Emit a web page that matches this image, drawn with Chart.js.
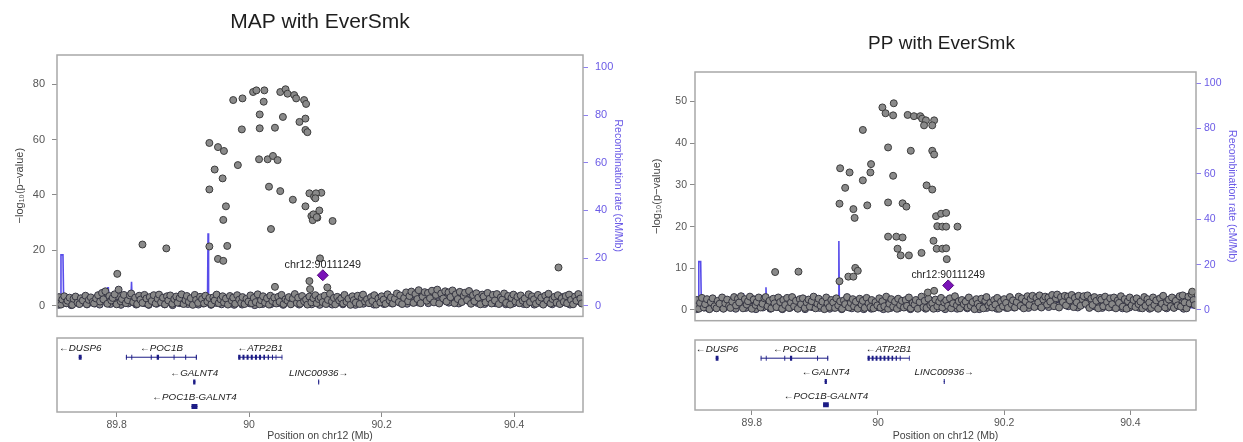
<!DOCTYPE html>
<html><head><meta charset="utf-8">
<script src="https://cdn.jsdelivr.net/npm/chart.js@4.4.1/dist/chart.umd.min.js"></script>
<style>
html,body{margin:0;padding:0;background:#fff;width:1243px;height:442px;overflow:hidden}
canvas{position:absolute}
</style></head><body>
<canvas id="mapMain" style="left:0px;top:0px" width="640" height="330"></canvas>
<canvas id="mapGene" style="left:0px;top:330px" width="640" height="112"></canvas>
<canvas id="ppMain" style="left:640px;top:0px" width="603" height="330"></canvas>
<canvas id="ppGene" style="left:640px;top:330px" width="603" height="112"></canvas>
<script>
// ---------------- data ----------------
const titles = ['MAP with EverSmk', 'PP with EverSmk'];
const xRange = [89.710, 90.504];
const mapTicks = [0, 20, 40, 60, 80];
const ppTicks = [0, 10, 20, 30, 40, 50];
const recombTicks = [0, 20, 40, 60, 80, 100];
const posTicks = [89.8, 90.0, 90.2, 90.4];
const posTickLabels = ['89.8', '90', '90.2', '90.4'];

const leadSnp = 'chr12:90111249';
const leadPos = 90.111249;
const leadMap = 11.0;
const leadPP = 5.9;

// background SNPs, upper layer (positions shared by both analyses)
const bgPos = [
89.711,89.713,89.716,89.718,89.721,89.724,89.726,89.729,89.733,89.735,
89.738,89.741,89.744,89.746,89.749,89.753,89.755,89.758,89.761,89.764,
89.766,89.769,89.772,89.775,89.778,89.780,89.783,89.786,89.789,89.792,
89.794,89.797,89.800,89.803,89.806,89.808,89.811,89.814,89.817,89.820,
89.822,89.825,89.828,89.831,89.834,89.836,89.839,89.842,89.845,89.848,
89.850,89.853,89.856,89.859,89.862,89.864,89.867,89.870,89.873,89.876,
89.878,89.881,89.884,89.887,89.890,89.892,89.895,89.898,89.901,89.904,
89.906,89.909,89.912,89.915,89.918,89.920,89.923,89.926,89.929,89.932,
89.934,89.937,89.940,89.943,89.946,89.948,89.951,89.954,89.957,89.960,
89.962,89.965,89.968,89.971,89.974,89.976,89.979,89.982,89.985,89.988,
89.990,89.993,89.996,89.999,90.002,90.004,90.007,90.010,90.013,90.016,
90.018,90.021,90.024,90.027,90.030,90.032,90.035,90.038,90.041,90.044,
90.046,90.049,90.052,90.055,90.058,90.060,90.063,90.066,90.069,90.072,
90.074,90.077,90.080,90.083,90.086,90.088,90.091,90.094,90.097,90.100,
90.102,90.105,90.108,90.111,90.114,90.116,90.119,90.122,90.125,90.128,
90.130,90.133,90.136,90.139,90.142,90.144,90.147,90.150,90.153,90.156,
90.158,90.161,90.164,90.167,90.170,90.172,90.175,90.178,90.181,90.184,
90.186,90.189,90.192,90.195,90.198,90.200,90.203,90.206,90.209,90.212,
90.214,90.217,90.220,90.223,90.226,90.228,90.231,90.234,90.237,90.240,
90.242,90.245,90.248,90.251,90.254,90.256,90.259,90.262,90.265,90.268,
90.270,90.273,90.276,90.279,90.282,90.284,90.287,90.290,90.293,90.296,
90.298,90.301,90.304,90.307,90.310,90.312,90.315,90.318,90.321,90.324,
90.326,90.329,90.332,90.335,90.338,90.340,90.343,90.346,90.349,90.352,
90.354,90.357,90.360,90.363,90.366,90.368,90.371,90.374,90.377,90.380,
90.382,90.385,90.388,90.391,90.394,90.396,90.399,90.402,90.405,90.408,
90.410,90.413,90.416,90.419,90.422,90.424,90.427,90.430,90.433,90.436,
90.438,90.441,90.444,90.447,90.450,90.452,90.455,90.458,90.461,90.464,
90.466,90.469,90.472,90.475,90.478,90.480,90.483,90.486,90.489,90.492,
90.494,90.497,90.500,90.502];
const bgMap = [
1.2,3.1,0.4,2.2,3.4,0.9,1.8,2.9,0.3,2.5,
3.3,1.1,0.6,2.7,1.9,3.6,0.5,2.1,3.0,1.4,
0.8,2.6,3.8,1.5,4.6,2.3,5.2,0.7,3.5,1.9,
2.8,4.1,0.5,5.8,1.6,2.4,3.9,0.9,2.0,3.7,
4.4,1.3,2.9,0.6,3.6,2.2,1.0,3.9,2.6,0.4,
3.1,1.7,3.8,0.8,2.5,4.0,1.2,2.9,0.5,3.4,
1.9,3.7,0.7,2.4,3.3,1.1,2.8,4.1,0.6,2.0,
3.5,1.4,2.7,0.3,3.9,2.1,1.0,3.2,2.4,0.8,
3.6,1.5,2.8,0.5,3.0,1.9,4.0,0.9,2.3,3.4,
1.2,2.6,0.4,3.5,1.8,2.9,0.7,3.8,2.2,1.0,
3.1,0.6,2.5,1.5,3.7,0.9,2.8,1.3,4.1,0.5,
2.0,3.4,1.1,2.7,0.4,3.6,1.7,2.9,0.8,3.2,
1.4,3.9,0.6,2.3,1.8,3.1,0.5,2.6,4.2,1.0,
2.9,0.7,3.5,1.6,2.2,0.4,3.3,1.2,2.7,3.8,
0.9,2.4,3.0,1.3,3.6,0.6,2.1,4.3,1.5,2.8,
0.5,3.2,1.9,2.6,0.8,3.9,1.4,2.5,0.3,3.4,
2.0,1.1,3.6,0.6,2.9,4.0,1.5,2.3,0.9,3.1,
1.7,3.8,0.4,2.6,1.2,3.4,2.2,0.7,4.1,1.9,
3.0,0.8,2.5,4.4,1.3,3.7,0.6,2.8,4.8,1.6,
3.5,5.1,1.0,4.2,2.4,5.6,0.9,3.3,4.9,1.8,
4.6,2.7,5.4,1.2,3.9,5.8,0.8,4.4,2.6,5.2,
1.5,4.8,3.1,5.5,0.9,4.1,2.4,5.0,1.3,3.6,
4.7,2.0,5.3,0.7,3.8,1.6,4.5,2.9,0.5,4.0,
3.3,1.2,4.6,2.5,0.8,3.9,1.9,4.2,0.6,3.0,
2.2,4.4,1.0,3.5,0.4,2.8,4.0,1.5,3.2,0.9,
3.7,1.8,2.6,0.5,4.1,1.3,3.4,2.3,0.7,3.9,
1.6,2.9,0.4,3.6,1.9,4.3,0.8,2.4,3.2,1.1,
3.8,0.6,2.7,1.4,3.5,0.9,4.0,2.1,0.5,3.3,
1.8,4.2,2.6,0.8];
const bgPP = [
0.8,2.4,0.3,1.7,2.9,0.6,1.4,2.6,0.2,1.9,
2.8,0.9,0.4,2.2,1.5,3.0,0.3,1.6,2.5,1.0,
0.5,2.0,3.1,1.1,2.7,1.8,3.3,0.4,2.6,1.3,
2.1,3.2,0.3,2.5,1.2,1.9,3.0,0.6,1.5,2.8,
3.1,0.9,2.2,0.4,2.7,1.6,0.7,3.0,1.9,0.3,
2.4,1.2,2.9,0.5,1.8,3.1,0.9,2.2,0.3,2.6,
1.4,2.8,0.5,1.8,2.5,0.8,2.1,3.2,0.4,1.5,
2.7,1.0,2.0,0.2,3.0,1.6,0.7,2.4,1.8,0.5,
2.8,1.1,2.1,0.3,2.3,1.4,3.1,0.6,1.7,2.6,
0.9,2.0,0.3,2.7,1.3,2.2,0.5,2.9,1.6,0.7,
2.4,0.4,1.9,1.1,2.8,0.6,2.1,0.9,3.2,0.3,
1.5,2.6,0.8,2.0,0.3,2.7,1.2,2.2,0.6,2.4,
1.0,3.0,0.4,1.7,1.3,2.4,0.3,1.9,3.2,0.7,
2.2,0.5,2.7,1.2,1.6,0.3,2.5,0.9,2.0,2.9,
0.6,1.8,2.3,1.0,2.8,0.4,1.6,3.3,1.1,2.1,
0.4,2.4,1.4,2.0,0.6,3.0,1.0,1.9,0.2,2.6,
1.5,0.8,2.7,0.4,2.2,3.1,1.1,1.7,0.6,2.4,
1.3,2.9,0.3,2.0,0.9,2.6,1.7,0.5,3.1,1.4,
2.3,0.6,1.9,3.2,1.0,2.8,0.4,2.1,3.3,1.2,
2.7,3.4,0.7,2.9,1.8,3.5,0.6,2.5,3.2,1.3,
3.0,2.0,3.6,0.9,2.8,3.7,0.6,3.1,1.9,3.4,
1.1,3.2,2.3,3.6,0.7,2.9,1.8,3.4,1.0,2.6,
3.3,1.5,3.5,0.5,2.7,1.2,3.1,2.2,0.4,2.9,
2.5,0.9,3.2,1.9,0.6,2.8,1.4,3.0,0.4,2.3,
1.7,3.3,0.8,2.6,0.3,2.1,3.0,1.1,2.4,0.7,
2.8,1.4,2.0,0.4,3.1,1.0,2.6,1.8,0.5,3.0,
1.2,2.3,0.3,2.8,1.5,3.4,0.6,1.9,2.5,0.9,
3.0,0.5,2.2,1.1,3.3,0.8,3.5,1.8,0.4,3.2,
1.6,3.8,2.4,1.2];

// background SNPs, lower layer
const bgPos2 = [
89.7125,89.7165,89.7205,89.7245,89.7285,89.7315,89.7355,89.7395,89.7435,89.7475,
89.7515,89.7555,89.7595,89.7635,89.7675,89.7705,89.7745,89.7785,89.7825,89.7865,
89.7905,89.7945,89.7985,89.8025,89.8065,89.8095,89.8135,89.8175,89.8215,89.8255,
89.8295,89.8335,89.8375,89.8415,89.8455,89.8485,89.8525,89.8565,89.8605,89.8645,
89.8685,89.8725,89.8765,89.8805,89.8845,89.8875,89.8915,89.8955,89.8995,89.9035,
89.9075,89.9115,89.9155,89.9195,89.9235,89.9265,89.9305,89.9345,89.9385,89.9425,
89.9465,89.9505,89.9545,89.9585,89.9625,89.9655,89.9695,89.9735,89.9775,89.9815,
89.9855,89.9895,89.9935,89.9975,90.0015,90.0045,90.0085,90.0125,90.0165,90.0205,
90.0245,90.0285,90.0325,90.0365,90.0405,90.0435,90.0475,90.0515,90.0555,90.0595,
90.0635,90.0675,90.0715,90.0755,90.0795,90.0825,90.0865,90.0905,90.0945,90.0985,
90.1025,90.1065,90.1105,90.1145,90.1185,90.1215,90.1255,90.1295,90.1335,90.1375,
90.1415,90.1455,90.1495,90.1535,90.1575,90.1605,90.1645,90.1685,90.1725,90.1765,
90.1805,90.1845,90.1885,90.1925,90.1965,90.1995,90.2035,90.2075,90.2115,90.2155,
90.2195,90.2235,90.2275,90.2315,90.2355,90.2385,90.2425,90.2465,90.2505,90.2545,
90.2585,90.2625,90.2665,90.2705,90.2745,90.2775,90.2815,90.2855,90.2895,90.2935,
90.2975,90.3015,90.3055,90.3095,90.3135,90.3165,90.3205,90.3245,90.3285,90.3325,
90.3365,90.3405,90.3445,90.3485,90.3525,90.3555,90.3595,90.3635,90.3675,90.3715,
90.3755,90.3795,90.3835,90.3875,90.3915,90.3945,90.3985,90.4025,90.4065,90.4105,
90.4145,90.4185,90.4225,90.4265,90.4305,90.4335,90.4375,90.4415,90.4455,90.4495,
90.4535,90.4575,90.4615,90.4655,90.4695,90.4725,90.4765,90.4805,90.4845,90.4885,
90.4925,90.4965,90.5005];
const bgMap2 = [
0.3,1.6,2.4,0.9,1.9,0.2,1.3,2.2,0.7,1.7,
2.6,0.5,1.4,2.0,0.8,3.0,0.4,1.8,2.7,1.1,
0.6,2.3,1.0,3.2,0.3,1.5,2.5,0.8,2.9,1.2,
0.4,2.1,1.4,0.9,2.7,0.3,1.6,2.4,0.7,1.9,
2.8,0.5,1.3,2.2,0.2,1.7,3.0,0.9,1.5,2.4,
0.6,2.0,1.1,2.9,0.4,1.8,0.8,2.5,1.3,0.3,
2.2,1.0,2.8,0.5,1.6,2.4,0.7,1.9,0.3,2.6,
1.2,0.4,2.3,1.5,0.8,2.7,0.2,1.7,2.1,0.6,
1.9,2.8,0.5,1.4,2.3,0.9,3.1,0.3,1.6,2.2,
0.7,2.5,1.2,0.4,2.0,1.6,0.9,2.9,0.5,1.8,
2.4,0.3,1.5,2.6,0.8,1.9,0.4,2.2,1.1,2.8,
0.5,1.7,2.5,0.9,2.1,0.3,1.4,2.7,0.7,1.6,
2.3,1.0,0.4,2.9,1.3,2.0,0.6,3.2,1.5,0.8,
2.6,3.4,1.1,2.2,3.7,0.7,2.8,1.6,3.9,1.2,
3.1,1.9,4.2,0.9,3.5,2.4,4.5,1.3,3.8,2.0,
4.0,1.1,3.3,2.6,4.4,0.8,3.6,2.1,4.1,1.5,
2.9,3.7,1.0,2.5,3.2,0.6,2.7,1.8,3.0,0.9,
2.2,1.3,2.8,0.5,1.9,3.0,0.8,2.4,1.1,2.6,
0.6,2.1,1.5,2.9,0.4,1.8,2.5,0.9,2.2,1.4,
2.7,0.5,1.9,2.4,0.8,3.1,1.2,2.0,0.4,2.6,
1.5,3.0,2.2];
const bgPP2 = [
0.2,1.2,1.9,0.6,1.5,0.3,1.0,1.8,0.5,1.3,
2.1,0.4,1.1,1.6,0.6,2.4,0.3,1.4,2.2,0.8,
0.5,1.8,0.8,2.6,0.2,1.2,2.0,0.6,2.3,0.9,
0.3,1.7,1.1,0.7,2.2,0.2,1.3,1.9,0.5,1.5,
2.3,0.4,1.0,1.8,0.2,1.4,2.4,0.7,1.2,1.9,
0.5,1.6,0.9,2.3,0.3,1.4,0.6,2.0,1.0,0.2,
1.8,0.8,2.2,0.4,1.3,1.9,0.5,1.5,0.2,2.1,
1.0,0.3,1.8,1.2,0.6,2.2,0.2,1.4,1.7,0.5,
1.5,2.3,0.4,1.1,1.8,0.7,2.5,0.2,1.3,1.8,
0.5,2.0,1.0,0.3,1.6,1.3,0.7,2.3,0.4,1.4,
1.9,0.2,1.2,2.1,0.6,1.5,0.3,1.8,0.9,2.2,
0.4,1.4,2.0,0.7,1.7,0.2,1.1,2.2,0.5,1.3,
1.8,0.8,0.3,2.3,1.0,1.6,0.5,2.5,1.2,0.6,
2.0,2.6,0.9,1.7,2.8,0.5,2.2,1.3,2.9,1.0,
2.4,1.5,3.0,0.7,2.6,1.9,3.1,1.0,2.7,1.6,
2.9,0.9,2.5,2.0,3.1,0.6,2.6,1.7,2.9,1.2,
2.2,2.8,0.8,1.9,2.4,0.5,2.1,1.4,2.3,0.7,
1.7,1.0,2.2,0.4,1.5,2.4,0.6,1.9,0.9,2.1,
0.5,1.7,1.2,2.3,0.3,1.4,2.0,0.7,1.8,1.1,
2.2,0.4,1.5,1.9,0.6,2.6,1.0,1.6,0.3,2.9,
1.3,3.4,2.5];

// associated SNPs, MAP analysis
const mapPeakPos = [89.801,89.839,89.875,89.940,89.953,89.962,89.948,89.940,89.960,89.965,
89.961,89.940,89.967,89.953,89.961,89.983,89.976,89.990,89.989,90.006,
90.011,90.023,90.022,90.016,90.016,90.039,90.015,90.028,90.036,90.043,
90.047,90.055,90.058,90.068,90.071,90.051,90.030,90.047,90.066,90.033,
90.083,90.086,90.076,90.085,90.085,90.088,90.085,90.091,90.098,90.109,
90.101,90.100,90.094,90.106,90.103,90.096,90.097,90.102,90.126,90.107,
90.091,90.092,90.039,90.118,90.467];
const mapPeakVal = [11.5,22.1,20.7,58.8,57.3,55.9,49.2,42.0,46.0,35.9,
31.0,21.4,21.6,16.9,16.2,50.8,74.3,74.9,63.7,77.2,
77.8,77.8,73.7,69.1,64.1,64.3,52.9,52.9,54.1,52.6,
77.2,78.2,76.6,76.1,74.9,68.2,43.0,41.4,38.3,27.7,
74.3,72.9,66.4,67.6,63.5,62.7,35.9,40.6,39.4,40.8,
40.6,38.8,32.4,34.4,31.8,30.9,33.0,32.0,30.6,17.1,
8.9,6.0,6.8,6.6,13.8];

// associated SNPs, PP analysis
const ppPeakPos = [89.940,89.955,89.948,89.939,89.961,89.963,89.976,89.988,89.989,89.983,
89.976,90.007,90.012,90.025,90.024,90.016,90.024,90.016,90.039,90.045,
90.016,90.029,90.039,90.031,90.036,90.049,90.069,90.047,90.057,90.067,
90.070,90.076,90.073,90.089,90.086,90.052,90.086,90.089,90.077,90.086,
90.092,90.100,90.108,90.094,90.102,90.108,90.126,90.088,90.093,90.102,
90.108,90.109,90.079,90.089,89.939,89.953,89.961,89.964,89.968,89.837,
89.874,90.498];
const ppPeakVal = [34.0,33.0,29.3,25.5,24.2,22.1,31.1,33.0,35.0,25.1,
43.2,48.6,47.2,49.6,46.7,39.0,32.2,25.8,25.6,24.8,
17.6,17.6,17.4,14.7,13.1,13.1,13.7,46.8,46.5,46.5,
45.9,45.5,44.3,45.5,44.3,38.2,38.2,37.3,29.9,28.9,
22.5,23.1,23.3,20.1,20.0,20.0,20.0,16.6,14.7,14.7,
14.8,12.2,4.2,4.6,6.9,8.0,8.0,10.1,9.4,9.1,
9.2,4.4];

// recombination rate (cM/Mb)
const recPos = [89.710,89.7130,89.7150,89.7160,89.7190,89.7200,89.7220,89.730,89.750,89.765,
89.7855,89.7865,89.7875,89.7885,89.800,89.8215,89.8225,89.8235,89.840,89.870,
89.900,89.920,89.9372,89.9380,89.9388,89.960,90.000,90.050,90.100,90.150,
90.200,90.250,90.300,90.350,90.400,90.450,90.504];
const recRate = [0.5,1.0,3.0,21.3,21.3,3.0,1.2,1.0,1.5,2.0,
2.5,7.5,7.5,2.0,1.5,1.5,10.0,1.5,3.0,3.5,
3.5,3.0,3.0,30.4,2.0,1.0,0.8,0.5,0.7,1.0,
1.5,2.0,1.8,1.5,1.0,1.2,1.0];

// genes
const geneNames = ['DUSP6','POC1B','ATP2B1','GALNT4','LINC00936','POC1B-GALNT4'];
const geneStart = [89.7428,89.8140,89.9835,89.9155,90.1042,89.9130];
const geneEnd   = [89.7472,89.9212,90.0502,89.9190,90.1058,89.9220];
const geneRow   = [0,0,0,1,1,2];
const geneStrand= [-1,-1,-1,-1,1,-1];
const exonStart = [89.7428,
 89.8140,89.8222,89.8515,89.8605,89.8860,89.9035,89.9195,
 89.9835,89.9900,89.9962,90.0025,90.0088,90.0150,90.0215,90.0280,90.0345,90.0400,90.0490,
 89.9155,90.1042,89.9130];
const exonEnd = [89.7472,
 89.8155,89.8236,89.8530,89.8640,89.8874,89.9050,89.9212,
 89.9870,89.9930,89.9992,90.0055,90.0118,90.0180,90.0240,90.0300,90.0360,90.0412,90.0502,
 89.9190,90.1058,89.9220];
const exonRow = [0, 0,0,0,0,0,0,0, 0,0,0,0,0,0,0,0,0,0,0, 1,1,2];

// ---------------- drawing ----------------
Chart.defaults.font.family = '"Liberation Sans", Arial, sans-serif';
const FONT = '"Liberation Sans", Arial, sans-serif';

const boxPlugin = {
  id: 'box',
  afterDraw(chart) {
    const a = chart.chartArea, c = chart.ctx;
    c.save();
    c.strokeStyle = '#a8a8a8';
    c.lineWidth = 1.5;
    c.strokeRect(a.left, a.top, a.right - a.left, a.bottom - a.top);
    c.restore();
  }
};

const leadLabelPlugin = {
  id: 'leadLabel',
  afterDatasetsDraw(chart, args, opts) {
    const p = chart.getDatasetMeta(0).data[0];
    if (!p) return;
    const c = chart.ctx;
    c.save();
    c.font = opts.size + 'px ' + FONT;
    c.fillStyle = '#222';
    c.textAlign = 'center';
    c.textBaseline = 'middle';
    c.fillText(leadSnp, p.x, p.y - opts.dy);
    c.restore();
  }
};

const geneLabelPlugin = {
  id: 'geneLabel',
  afterDatasetsDraw(chart, args, opts) {
    const xs = chart.scales.x, ys = chart.scales.y, c = chart.ctx;
    c.save();
    c.font = 'italic ' + opts.size + 'px ' + FONT;
    c.fillStyle = '#222';
    c.textAlign = 'center';
    c.textBaseline = 'middle';
    geneNames.forEach((n, i) => {
      const mid = (geneStart[i] + geneEnd[i]) / 2;
      const t = geneStrand[i] < 0 ? '\u2190' + n : n + '\u2192';
      c.fillText(t, xs.getPixelForValue(mid), ys.getPixelForValue(geneRow[i]) - opts.dy);
    });
    c.restore();
  }
};

function segs(starts, ends, rows) {
  const out = [];
  starts.forEach((s, i) => {
    out.push({x: s, y: rows[i]}, {x: ends[i], y: rows[i]}, {x: ends[i], y: null});
  });
  return out;
}

function mainChart(id, g) {
  const band = bgPos.map((x, i) => ({x, y: g.bg[i]}));
  const band2 = bgPos2.map((x, i) => ({x, y: g.bg2[i]}));
  const peak = g.peakPos.map((x, i) => ({x, y: g.peakVal[i]}));
  const rec = recPos.map((x, i) => ({x, y: recRate[i]}));
  new Chart(document.getElementById(id), {
    type: 'scatter',
    data: { datasets: [
      {data: [{x: leadPos, y: g.lead}], pointStyle: 'rectRot', pointRadius: g.dia,
       backgroundColor: '#7a12b8', borderColor: '#55097f', borderWidth: 1, order: 0},
      {data: peak, pointRadius: g.r, backgroundColor: '#8a8a8a', borderColor: '#3c3c3c', borderWidth: 1, order: 1},
      {data: band, pointRadius: g.r, backgroundColor: '#888888', borderColor: '#363642', borderWidth: 1, order: 2},
      {data: band2, pointRadius: g.r, backgroundColor: '#848484', borderColor: '#33334a', borderWidth: 1, order: 3},
      {type: 'line', data: rec, yAxisID: 'y2', borderColor: 'rgba(70,58,232,0.9)', borderWidth: 1.6,
       pointRadius: 0, tension: 0, fill: false, order: 4}
    ]},
    options: {
      animation: false, responsive: false, events: [],
      layout: {autoPadding: false, padding: {top: 0, bottom: g.padBottom, left: 0, right: 0}},
      plugins: {
        legend: {display: false}, tooltip: {enabled: false},
        title: {display: true, text: g.title, color: '#1e1e1e',
                font: {size: g.titleSize, weight: 'normal'}, padding: {top: g.titleTop, bottom: g.titleBottom}},
        leadLabel: {size: g.labelSize, dy: 10}
      },
      scales: {
        x: {type: 'linear', min: xRange[0], max: xRange[1], display: false},
        y: {position: 'left', min: g.yMin, max: g.yMax,
            afterFit: s => { s.width = g.leftW; },
            afterBuildTicks: s => { s.ticks = g.yTicks.map(v => ({value: v})); },
            grid: {drawOnChartArea: false, tickLength: 5, color: '#8a8a8a'},
            border: {display: false},
            ticks: {color: '#555', font: {size: g.tickSize}, padding: g.yPad},
            title: {display: true, text: '\u2212log\u2081\u2080(p\u2212value)', color: '#444',
                    font: {size: 11}, padding: {top: g.yTitlePad, bottom: 0}}},
        y2: {position: 'right', min: g.y2Min, max: g.y2Max,
            afterFit: s => { s.width = g.rightW; },
            afterBuildTicks: s => { s.ticks = recombTicks.map(v => ({value: v})); },
            grid: {drawOnChartArea: false, tickLength: 5, color: '#8d80f0'},
            border: {display: false},
            ticks: {color: '#6a5ae6', font: {size: g.tickSize}, padding: g.y2Pad},
            title: {display: true, text: 'Recombination rate (cM/Mb)', color: '#6a5ae6',
                    font: {size: 10.5}, padding: {top: g.y2TitlePad, bottom: 0}}}
      }
    },
    plugins: [boxPlugin, leadLabelPlugin]
  });
}

function geneChart(id, g) {
  new Chart(document.getElementById(id), {
    type: 'line',
    data: { datasets: [
      {data: segs(geneStart, geneEnd, geneRow), borderColor: '#1c1c86', borderWidth: 1,
       pointRadius: 0, spanGaps: false, tension: 0},
      {data: segs(exonStart, exonEnd, exonRow), borderColor: '#1c1c86', borderWidth: 5,
       borderCapStyle: 'butt', pointRadius: 0, spanGaps: false, tension: 0}
    ]},
    options: {
      animation: false, responsive: false, events: [],
      layout: {autoPadding: false, padding: {top: g.top, bottom: 0, left: g.left, right: g.right}},
      plugins: {legend: {display: false}, tooltip: {enabled: false}, geneLabel: {size: 9.8, dy: 9}},
      scales: {
        x: {type: 'linear', min: xRange[0], max: xRange[1],
            afterFit: s => { s.height = g.axisH; },
            afterBuildTicks: s => { s.ticks = posTicks.map(v => ({value: v})); },
            grid: {drawOnChartArea: false, tickLength: 5, color: '#8a8a8a'},
            border: {display: false},
            ticks: {color: '#555', font: {size: 10.5}, padding: 2, maxRotation: 0, autoSkip: false,
                    callback: v => posTickLabels[posTicks.indexOf(v)]},
            title: {display: true, text: 'Position on chr12 (Mb)', color: '#444',
                    font: {size: 10.5}, padding: {top: 0, bottom: 0}}},
        y: {type: 'linear', min: -0.78, max: 2.22, reverse: true, display: false}
      }
    },
    plugins: [boxPlugin, geneLabelPlugin]
  });
}

mainChart('mapMain', {
  title: titles[0], titleSize: 21, titleTop: 9.4, titleBottom: 20.4, padBottom: 7,
  bg: bgMap, bg2: bgMap2, peakPos: mapPeakPos, peakVal: mapPeakVal, lead: leadMap,
  yMin: -3.87, yMax: 90.58, yTicks: mapTicks, y2Min: -4.5, y2Max: 105.2,
  leftW: 57, rightW: 57, yPad: 7, y2Pad: 7, yTitlePad: 13.4, y2TitlePad: 15.7,
  tickSize: 11, labelSize: 10.8, r: 3.5, dia: 5.5
});
geneChart('mapGene', {top: 8, left: 57, right: 57, axisH: 30});

mainChart('ppMain', {
  title: titles[1], titleSize: 19, titleTop: 32.6, titleBottom: 16.6, padBottom: 3,
  bg: bgPP, bg2: bgPP2, peakPos: ppPeakPos, peakVal: ppPeakVal, lead: leadPP,
  yMin: -2.57, yMax: 57.1, yTicks: ppTicks, y2Min: -4.72, y2Max: 104.9,
  leftW: 55, rightW: 47, yPad: 3, y2Pad: 3, yTitlePad: 10.1, y2TitlePad: 4.7,
  tickSize: 10.5, labelSize: 10.4, r: 3.5, dia: 5.5
});
geneChart('ppGene', {top: 10, left: 55, right: 47, axisH: 32});
</script>
</body></html>
